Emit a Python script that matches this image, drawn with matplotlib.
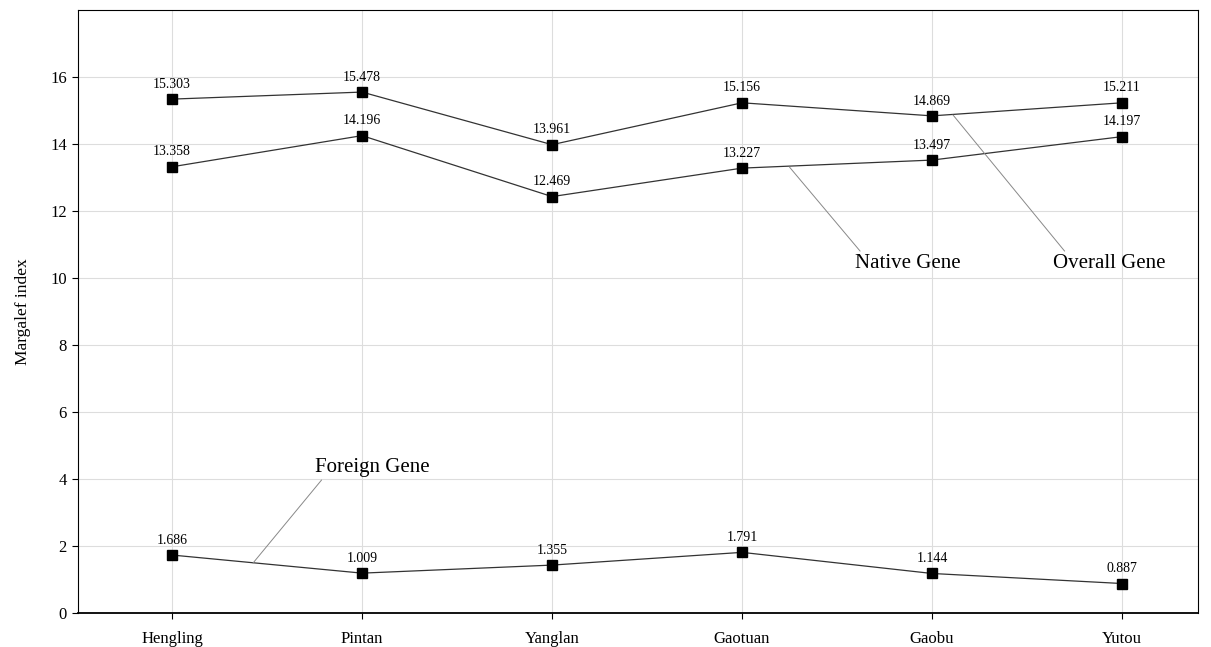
import matplotlib
matplotlib.use("Agg")
import matplotlib.pyplot as plt

# sites along the x axis
sites = ["Hengling", "Pintan", "Yanglan", "Gaotuan", "Gaobu", "Yutou"]

# plotted positions
overall = [15.34, 15.55, 13.98, 15.23, 14.84, 15.23]
native = [13.32, 14.25, 12.43, 13.28, 13.52, 14.22]
foreign = [1.73, 1.19, 1.43, 1.81, 1.18, 0.88]

# printed value labels
overall_lbl = ["15.303", "15.478", "13.961", "15.156", "14.869", "15.211"]
native_lbl = ["13.358", "14.196", "12.469", "13.227", "13.497", "14.197"]
foreign_lbl = ["1.686", "1.009", "1.355", "1.791", "1.144", "0.887"]

plt.rcParams['font.family'] = ['Liberation Serif', 'DejaVu Serif']

fig = plt.figure(figsize=(12.11, 6.47), dpi=100)
ax = fig.add_axes([78 / 1211, 1 - 613 / 647, 1120 / 1211, 603 / 647])

x = list(range(len(sites)))
for vals, lbls in [(overall, overall_lbl), (native, native_lbl), (foreign, foreign_lbl)]:
    ax.plot(x, vals, color='#333333', linewidth=0.9, marker='s',
            markersize=6.5, markerfacecolor='black', markeredgecolor='black', zorder=3)
    for xi, v, t in zip(x, vals, lbls):
        ax.annotate(t, (xi, v), xytext=(0, 6), textcoords='offset points',
                    ha='center', va='bottom', fontsize=10)

# leader-line labels
line_style = dict(arrowstyle='-', color='#888888', lw=0.7, shrinkA=0, shrinkB=0)
ax.annotate("Native Gene", xy=(3.25, 13.31), xytext=(3.595, 10.72),
            fontsize=15, ha='left', va='top',
            arrowprops=dict(relpos=(0.07, 1.0), **line_style))
ax.annotate("Overall Gene", xy=(4.11, 14.87), xytext=(4.637, 10.72),
            fontsize=15, ha='left', va='top',
            arrowprops=dict(relpos=(0.13, 0.95), **line_style))
ax.annotate("Foreign Gene", xy=(0.426, 1.49), xytext=(0.753, 4.62),
            fontsize=15, ha='left', va='top',
            arrowprops=dict(relpos=(0.09, 0.1), **line_style))

ax.set_xlim(-0.495, 5.4)
ax.set_ylim(0, 18)
ax.set_yticks(range(0, 17, 2))
ax.set_xticks(x)
ax.set_xticklabels(sites)
ax.tick_params(labelsize=12, direction='out', length=4, width=0.8, pad=9)
ax.tick_params(axis='y', pad=4)
ax.grid(True, color='#dddddd', linewidth=0.8)
ax.set_axisbelow(True)
for s in ax.spines.values():
    s.set_linewidth(0.8)
ax.spines['bottom'].set_linewidth(1.3)
ax.set_ylabel("Margalef index", fontsize=12.5, labelpad=14)

fig.savefig("out.png", dpi=100)
